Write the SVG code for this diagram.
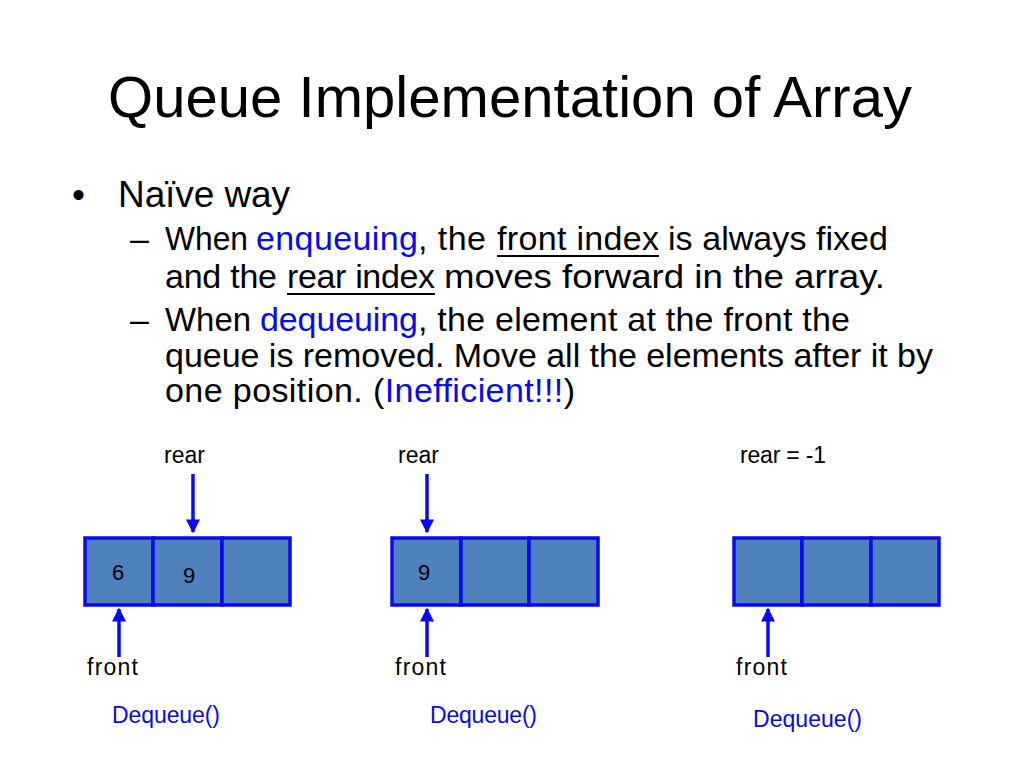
<svg xmlns="http://www.w3.org/2000/svg" width="1024" height="768" viewBox="0 0 1024 768">
<defs>
<style>
text{font-family:"Liberation Sans",Arial,sans-serif;fill:#000}
.title{font-size:58px}
.l1{font-size:37px}
.l2{font-size:34px}
.sm{font-size:23px}
.num{font-size:22px}
.blue{fill:#0A0AE6}
.cell{fill:#4F81BD;stroke:#0A0AF0;stroke-width:3.5}
.arr{stroke:#0A0AF0;stroke-width:3.5;fill:none}
.ul{stroke:#000;stroke-width:2}
</style>
<marker id="ah" viewBox="0 0 10 10" refX="9" refY="5" markerWidth="4" markerHeight="4" orient="auto" markerUnits="strokeWidth">
<path d="M0,0 L10,5 L0,10 Z" fill="#0A0AF0"/>
</marker>
</defs>
<rect width="1024" height="768" fill="#fff"/>

<g id="title">
<text class="title" x="108" y="117" textLength="804">Queue Implementation of Array</text>
</g>

<g id="bullets">
<text class="l1" x="72" y="207">•</text>
<text class="l1" x="118" y="207" textLength="172">Naïve way</text>

<text class="l2" x="130" y="250">–</text>
<text class="l2" x="165" y="250" textLength="83" lengthAdjust="spacingAndGlyphs">When</text>
<text class="l2 blue" x="256" y="250" textLength="162">enqueuing</text>
<text class="l2" x="418" y="250" textLength="68">, the</text>
<text class="l2" x="497" y="250" textLength="162">front index</text>
<line class="ul" x1="497" y1="256" x2="659" y2="256"/>
<text class="l2" x="668" y="250" textLength="220">is always fixed</text>

<text class="l2" x="165" y="288" textLength="112">and the</text>
<text class="l2" x="287" y="288" textLength="148">rear index</text>
<line class="ul" x1="287" y1="294" x2="435" y2="294"/>
<text class="l2" x="444" y="288" textLength="441" lengthAdjust="spacingAndGlyphs">moves forward in the array.</text>

<text class="l2" x="130" y="331">–</text>
<text class="l2" x="165" y="331" textLength="86" lengthAdjust="spacingAndGlyphs">When</text>
<text class="l2 blue" x="260" y="331" textLength="158">dequeuing</text>
<text class="l2" x="418" y="331" textLength="432">, the element at the front the</text>

<text class="l2" x="165" y="367" textLength="768">queue is removed. Move all the elements after it by</text>

<text class="l2" x="165" y="402" textLength="410">one position. (<tspan class="blue">Inefficient!!!</tspan>)</text>
</g>

<g id="array1">
<rect class="cell" x="85" y="538" width="68" height="67"/>
<rect class="cell" x="153" y="538" width="69" height="67"/>
<rect class="cell" x="222" y="538" width="68" height="67"/>
<text class="num" x="118" y="580" text-anchor="middle">6</text>
<text class="num" x="189" y="583" text-anchor="middle">9</text>
<text class="sm" x="164" y="463" textLength="41">rear</text>
<text class="sm" x="87" y="675" textLength="51">front</text>
<text class="sm blue" x="112" y="723" textLength="108">Dequeue()</text>
</g>

<g id="array2">
<rect class="cell" x="392" y="538" width="69" height="67"/>
<rect class="cell" x="461" y="538" width="68" height="67"/>
<rect class="cell" x="529" y="538" width="69" height="67"/>
<text class="num" x="424" y="580" text-anchor="middle">9</text>
<text class="sm" x="398" y="463" textLength="41">rear</text>
<text class="sm" x="395" y="675" textLength="51">front</text>
<text class="sm blue" x="430" y="723" textLength="107">Dequeue()</text>
</g>

<g id="array3">
<rect class="cell" x="734" y="538" width="68" height="67"/>
<rect class="cell" x="802" y="538" width="69" height="67"/>
<rect class="cell" x="871" y="538" width="68" height="67"/>
<text class="sm" x="740" y="463" textLength="86">rear = -1</text>
<text class="sm" x="736" y="675" textLength="51">front</text>
<text class="sm blue" x="753" y="727" textLength="109">Dequeue()</text>
</g>

<g id="connectors">
<line class="arr" x1="193" y1="474" x2="193" y2="532" marker-end="url(#ah)"/>
<line class="arr" x1="119" y1="657" x2="119" y2="609" marker-end="url(#ah)"/>
<line class="arr" x1="427" y1="474" x2="427" y2="532" marker-end="url(#ah)"/>
<line class="arr" x1="427" y1="657" x2="427" y2="609" marker-end="url(#ah)"/>
<line class="arr" x1="768" y1="657" x2="768" y2="609" marker-end="url(#ah)"/>
</g>
</svg>
